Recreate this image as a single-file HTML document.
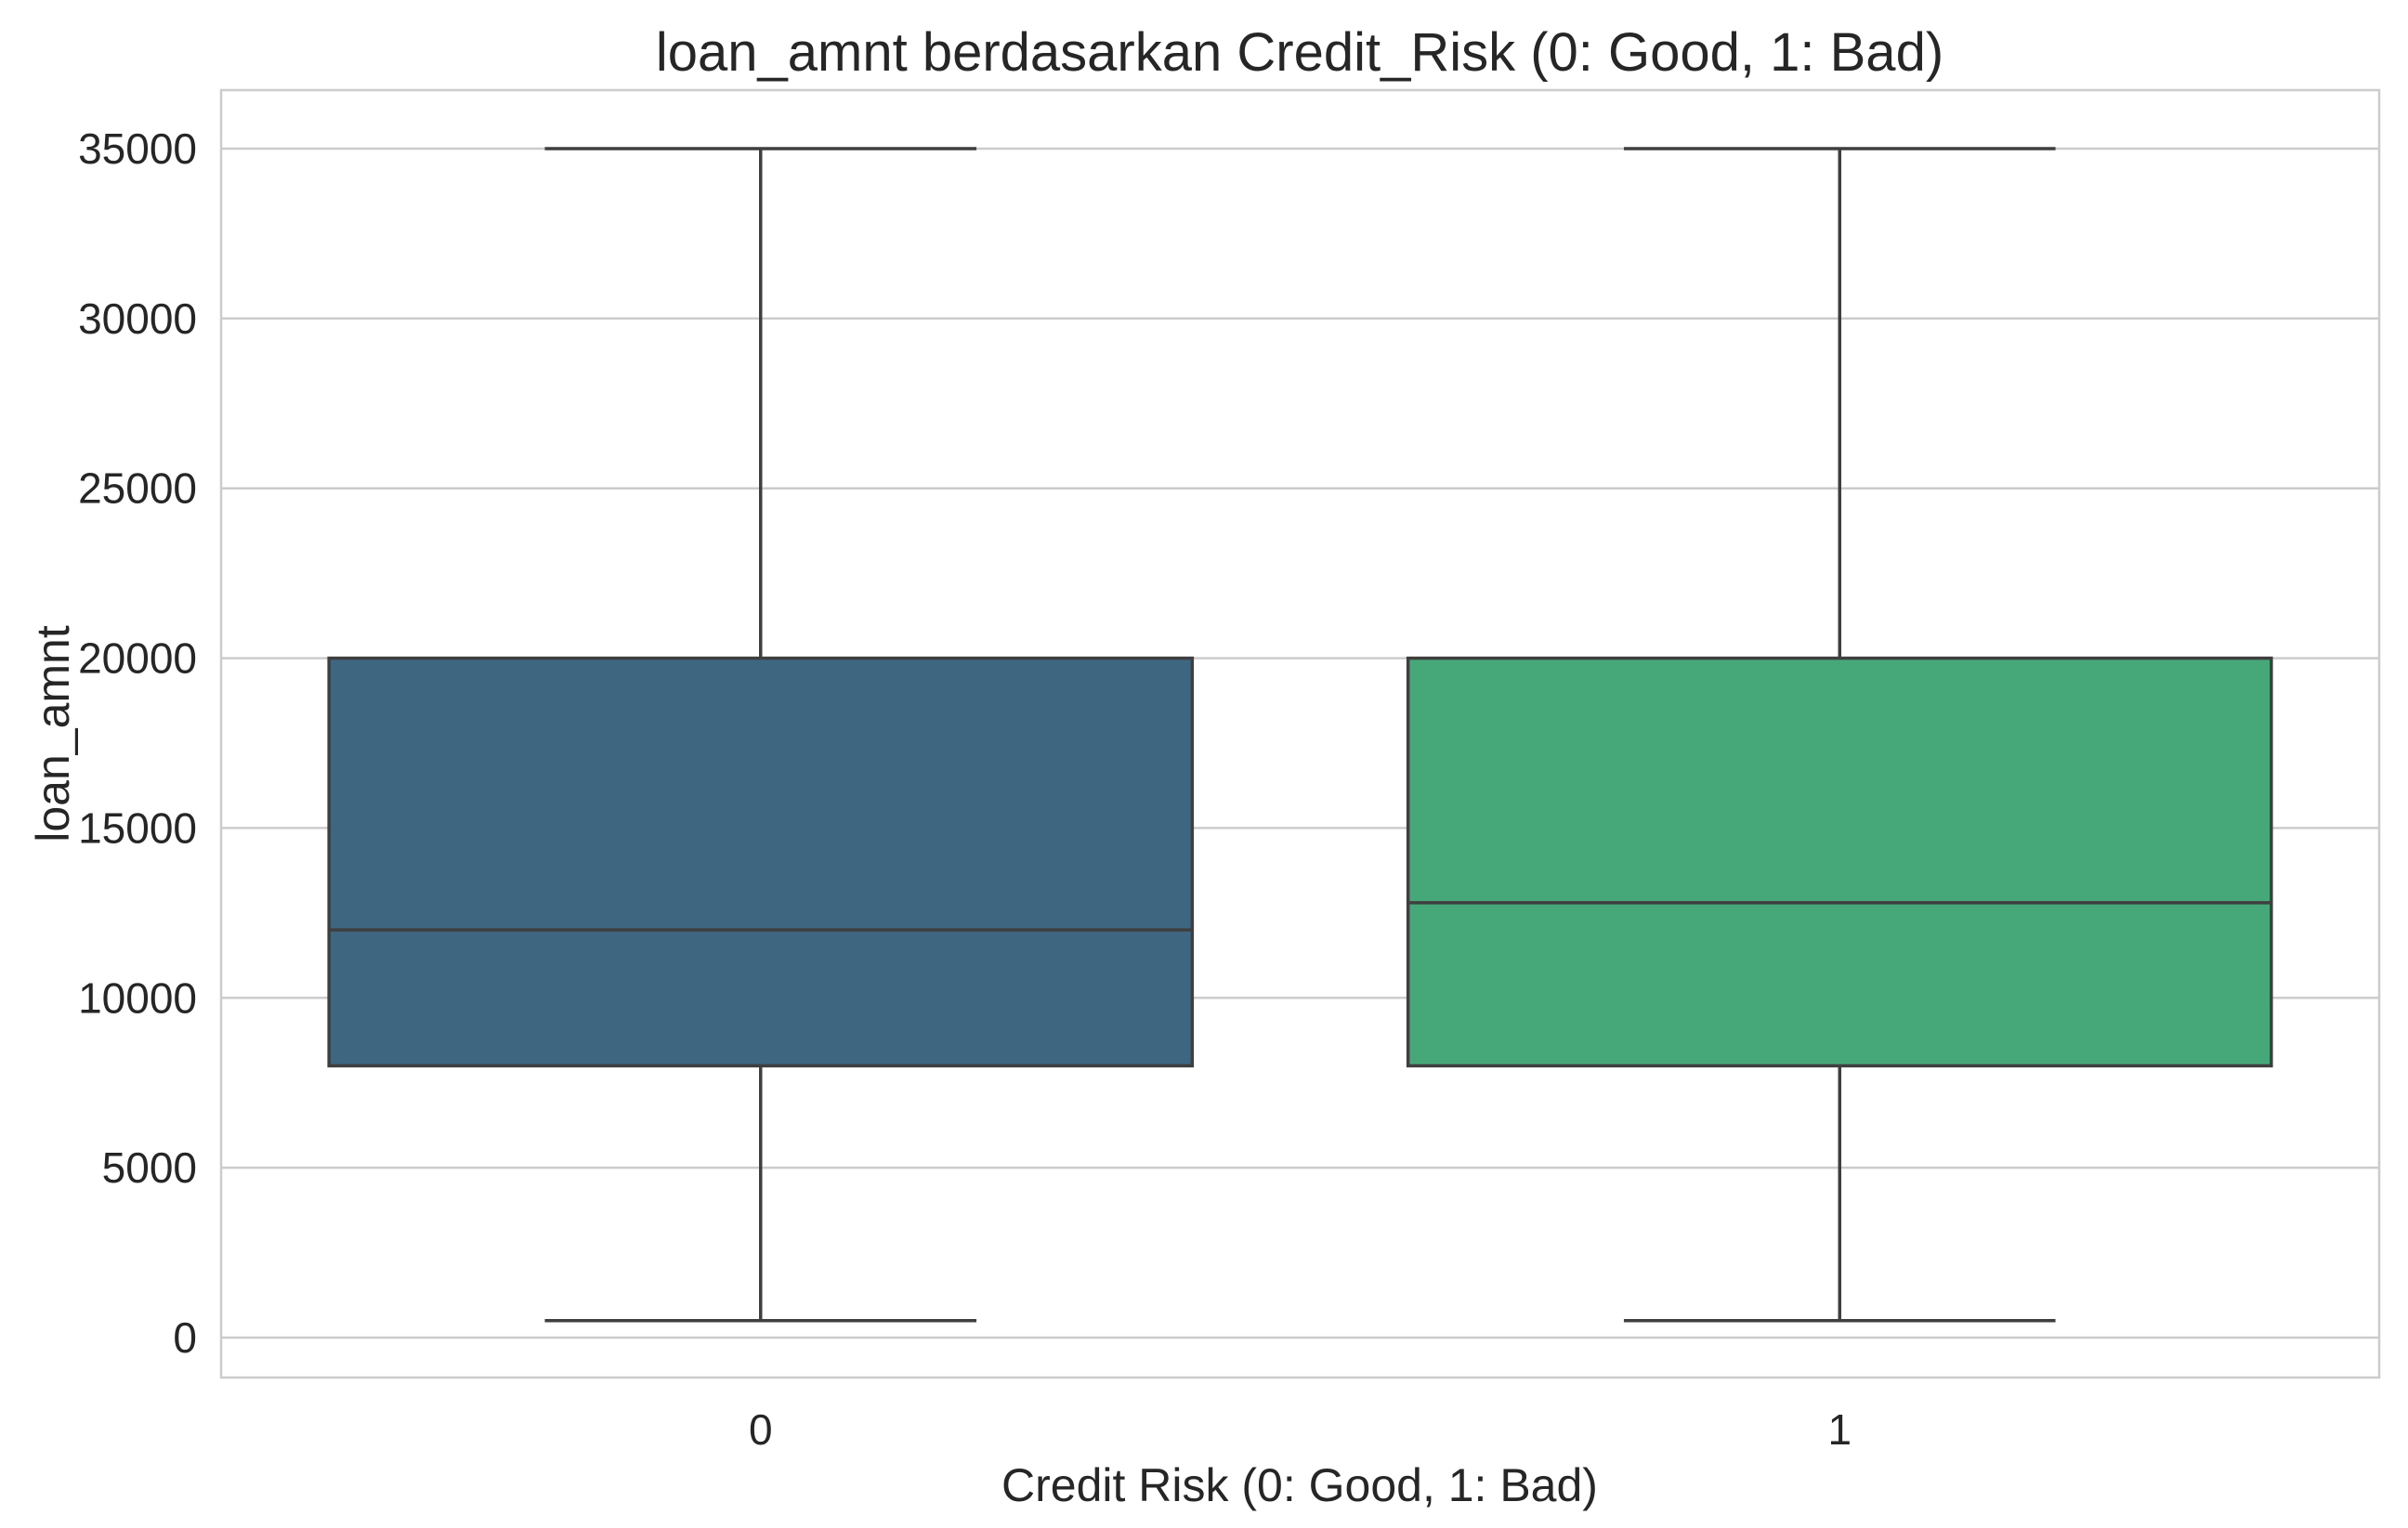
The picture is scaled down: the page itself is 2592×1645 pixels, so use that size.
<!DOCTYPE html>
<html><head><meta charset="utf-8"><style>
html,body{margin:0;padding:0;background:#fff;}
svg{display:block;font-family:"Liberation Sans",Arial,sans-serif;}
</style></head><body>
<svg id="chart" width="2592" height="1645" viewBox="0 0 2592 1645">
<text x="1399" y="76" font-size="58" fill="#262626" text-anchor="middle">loan_amnt berdasarkan Credit_Risk (0: Good, 1: Bad)</text>
<text x="1399" y="1616" font-size="50" fill="#262626" text-anchor="middle">Credit Risk (0: Good, 1: Bad)</text>
<text transform="translate(74,790) rotate(-90)" font-size="50" fill="#262626" text-anchor="middle">loan_amnt</text>
<g id="grid"></g>
<g id="boxes"></g>
<rect x="238" y="97" width="2323" height="1386" fill="none" stroke="#cccccc" stroke-width="2.5"/>
</svg>
<script>
const categories = ["0", "1"];
const whiskerLow = [500, 500];
const q1 = [8000, 8000];
const median = [12000, 12800];
const q3 = [20000, 20000];
const whiskerHigh = [35000, 35000];
const yTicks = [0, 5000, 10000, 15000, 20000, 25000, 30000, 35000];
const colors = ["#3e6680", "#46a878"];

const plotLeft = 238, plotRight = 2561, plotTop = 97, plotBottom = 1483;
const yZero = 1440, pxPerUnit = (1440 - 160) / 35000;
function yScale(v){ return yZero - v * pxPerUnit; }
const band = (plotRight - plotLeft) / categories.length;
function xScale(i){ return plotLeft + band * (i + 0.5); }

const ns = "http://www.w3.org/2000/svg";
const gridG = document.getElementById('grid');
const boxesG = document.getElementById('boxes');
function mk(tag, attrs, parent){
  const e = document.createElementNS(ns, tag);
  for (const k in attrs) e.setAttribute(k, attrs[k]);
  parent.appendChild(e);
  return e;
}
yTicks.forEach(t => {
  const y = yScale(t);
  const g = mk('line', {x1: plotLeft, x2: plotRight, y1: y, y2: y, stroke: '#cccccc', 'stroke-width': 2.5}, gridG);
  
  
  const tx = mk('text', {x: 212, y: y + 16, 'font-size': 46, fill: '#262626', 'text-anchor': 'end'}, gridG);
  tx.textContent = String(t);
  
  
});
categories.forEach((c, i) => {
  const cx = xScale(i);
  const bw = band * 0.8, cap = band * 0.4;
  const stroke = '#3f3f3f', sw = 3.5;
  const wl = mk('line', {x1: cx, x2: cx, y1: yScale(q3[i]), y2: yScale(whiskerHigh[i]), stroke: stroke, 'stroke-width': sw}, boxesG);
  
  
  const wl2 = mk('line', {x1: cx, x2: cx, y1: yScale(q1[i]), y2: yScale(whiskerLow[i]), stroke: stroke, 'stroke-width': sw}, boxesG);
  
  
  const c1 = mk('line', {x1: cx - cap/2, x2: cx + cap/2, y1: yScale(whiskerHigh[i]), y2: yScale(whiskerHigh[i]), stroke: stroke, 'stroke-width': sw}, boxesG);
  
  
  const c2 = mk('line', {x1: cx - cap/2, x2: cx + cap/2, y1: yScale(whiskerLow[i]), y2: yScale(whiskerLow[i]), stroke: stroke, 'stroke-width': sw}, boxesG);
  
  
  const r = mk('rect', {x: cx - bw/2, y: yScale(q3[i]), width: bw, height: yScale(q1[i]) - yScale(q3[i]), fill: colors[i], stroke: stroke, 'stroke-width': sw}, boxesG);
  
  
  const m = mk('line', {x1: cx - bw/2, x2: cx + bw/2, y1: yScale(median[i]), y2: yScale(median[i]), stroke: stroke, 'stroke-width': sw}, boxesG);
  
  
  const t = mk('text', {x: cx, y: 1555, 'font-size': 46, fill: '#262626', 'text-anchor': 'middle'}, boxesG);
  t.textContent = c;
  
  
});
</script>
</body></html>
